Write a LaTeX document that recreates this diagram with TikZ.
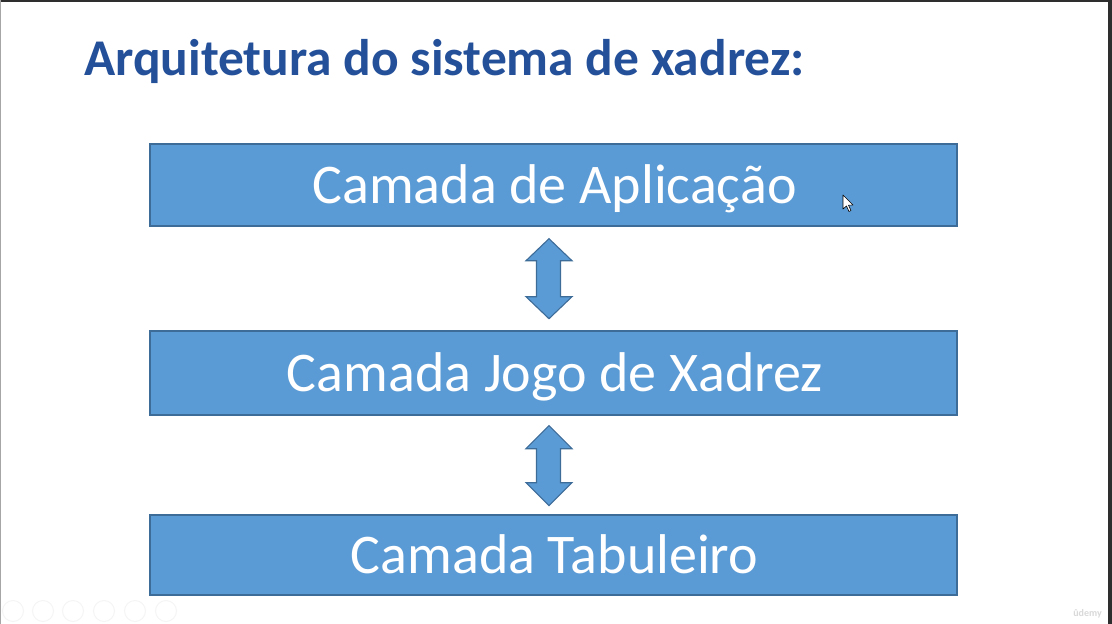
\documentclass[tikz,border=0pt]{standalone}
\usepackage{fontspec}
\setmainfont{Carlito}
\usetikzlibrary{calc}
\definecolor{titleblue}{HTML}{24509A}
\definecolor{layerfill}{HTML}{5B9BD5}
\definecolor{layerline}{HTML}{3E6C98}
\definecolor{frame}{HTML}{2E2E2E}
\tikzset{
  layer/.style={draw=layerline, line width=1.4pt, fill=layerfill,
    minimum width=807pt, inner sep=0pt},
  layertext/.style={text=white, font=\fontsize{56}{62}\selectfont, anchor=base, inner sep=0pt},
  dblarrow/.style={draw=layerline, line width=1.1pt, fill=layerfill, line join=miter},
  faint/.style={draw=black!4, line width=1pt},
}
\newcommand{\vdblarrow}[3]{% name of top coordinate, head length, total length
  \draw[dblarrow] (#1) -- ($(#1)+(23,#2)$) -- ($(#1)+(11.5,#2)$)
    -- ($(#1)+(11.5,#3-#2)$) -- ($(#1)+(23,#3-#2)$) -- ($(#1)+(0,#3)$)
    -- ($(#1)+(-23,#3-#2)$) -- ($(#1)+(-12.5,#3-#2)$) -- ($(#1)+(-12.5,#2)$)
    -- ($(#1)+(-23,#2)$) -- cycle;}
\begin{document}
\begin{tikzpicture}[x=1pt,y=-1pt]
\useasboundingbox (0,0) rectangle (1112,624);
\fill[white] (0,0) rectangle (1112,624);
% frame edges of the screenshot
\fill[frame] (0,0) rectangle (1112,2);
\fill[frame] (1108,0) rectangle (1112,624);
\fill[black!35] (0,0) rectangle (1.2,624);

% title
\node[anchor=base west, inner sep=0pt, text=titleblue,
      font=\fontsize{51.5}{58}\bfseries\selectfont] (title) at (84,75)
  {Arquitetura do sistema de xadrez:};

% layers
\node[layer, minimum height=82pt] (app) at (553.5,185) {};
\node[layer, minimum height=84pt] (game) at (553.5,373) {};
\node[layer, minimum height=80pt] (board) at (553.5,555) {};

\node[layertext] (appt) at (554.5,203.5) {Camada de Aplicação};
\node[layertext] (gamet) at (555,391.5) {Camada Jogo de Xadrez};
\node[layertext] (boardt) at (554.5,573.5) {Camada Tabuleiro};

% double arrows between layers
\coordinate (a1t) at ($(app.south)+(-4.5,12)$);
\vdblarrow{a1t}{22}{80}
\coordinate (a2t) at ($(game.south)+(-4.5,10)$);
\vdblarrow{a2t}{23}{80}

% mouse cursor
\draw[black, fill=white, line width=0.6pt, line join=round]
  (843,195) -- (843,209) -- (846.5,206) -- (849,211.5) -- (851,210.5)
  -- (848.5,205.2) -- (853,205) -- cycle;

% faint player toolbar
\foreach \cx in {13,43,73,104,135,166}
  \draw[faint] (\cx,611) circle (10.5);

% watermark
\node[anchor=base east, inner sep=0pt, text=black!15,
      font=\fontsize{10}{12}\bfseries\selectfont] (wm) at (1102,616) {ûdemy};
\end{tikzpicture}
\end{document}
